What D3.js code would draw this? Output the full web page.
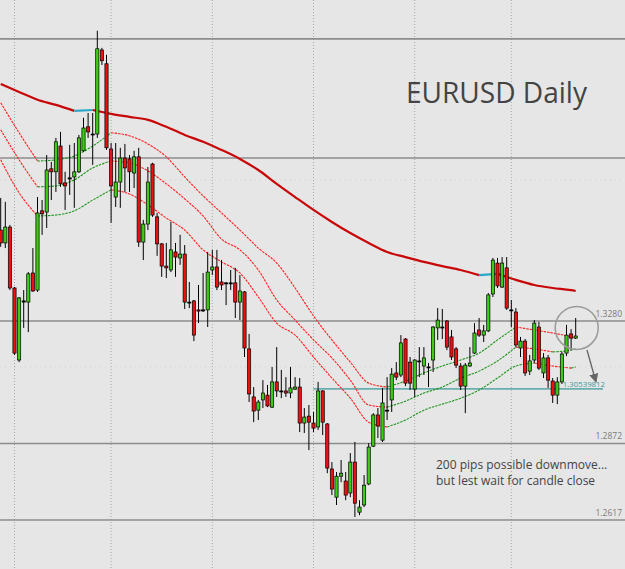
<!DOCTYPE html>
<html><head><meta charset="utf-8">
<script src="https://cdn.jsdelivr.net/npm/d3@7"></script>
<style>html,body{margin:0;padding:0;background:#e6e6e6;}svg{display:block;}</style>
</head><body>
<svg id="c" width="625" height="569"></svg>
<script>
// ---- data (EURUSD daily candles) ----
const open = [1.3583,1.3540,1.3593,1.3390,1.3150,1.3347,1.3343,1.3440,1.3383,1.3647,
1.3643,1.3787,1.3777,1.3863,1.3740,1.3757,1.3760,1.3777,1.3847,1.3927,
1.3903,1.3903,1.4183,1.4137,1.3853,1.3693,1.3743,1.3823,1.3820,1.3773,
1.3827,1.3543,1.3603,1.3803,1.3627,1.3537,1.3463,1.3450,1.3510,1.3490,
1.3503,1.3343,1.3347,1.3317,1.3317,1.3317,1.3450,1.3460,1.3410,1.3407,
1.3407,1.3407,1.3343,1.3377,1.3187,1.3027,1.2983,1.3017,1.3033,1.2993,
1.3077,1.3047,1.3047,1.3040,1.3053,1.3060,1.2940,1.2963,1.2940,1.2927,
1.3047,1.2937,1.2787,1.2693,1.2763,1.2747,1.2707,1.2810,1.2643,1.2667,
1.2737,1.2863,1.2967,1.2883,1.2983,1.3017,1.3107,1.3100,1.3220,1.3143,
1.3053,1.3147,1.3130,1.3127,1.3150,1.3257,1.3260,1.3280,1.3227,1.3187,
1.3130,1.3063,1.3130,1.3173,1.3250,1.3233,1.3247,1.3370,1.3473,1.3393,
1.3457,1.3317,1.3310,1.3190,1.3213,1.3113,1.3150,1.3260,1.3107,1.3157,
1.3080,1.3033,1.3077,1.3173,1.3237,1.3223];
const high = [1.3690,1.3677,1.3600,1.3393,1.3360,1.3383,1.3443,1.3523,1.3693,1.3683,
1.3833,1.3810,1.3890,1.3910,1.3777,1.3867,1.3873,1.3900,1.3957,1.3973,
1.3973,1.4247,1.4190,1.4167,1.3873,1.3873,1.3857,1.3870,1.3833,1.3847,
1.3857,1.3617,1.3793,1.3807,1.3640,1.3540,1.3540,1.3610,1.3540,1.3567,
1.3533,1.3410,1.3350,1.3400,1.3440,1.3510,1.3517,1.3517,1.3483,1.3410,
1.3450,1.3457,1.3433,1.3380,1.3237,1.3060,1.3017,1.3083,1.3067,1.3127,
1.3193,1.3117,1.3093,1.3127,1.3093,1.3090,1.2990,1.3000,1.2977,1.3077,
1.3050,1.2940,1.2810,1.2777,1.2817,1.2777,1.2840,1.2877,1.2683,1.2767,
1.2873,1.2973,1.2990,1.3057,1.3093,1.3123,1.3143,1.3233,1.3223,1.3160,
1.3153,1.3193,1.3193,1.3140,1.3263,1.3323,1.3320,1.3283,1.3250,1.3193,
1.3140,1.3140,1.3193,1.3273,1.3290,1.3267,1.3373,1.3490,1.3490,1.3493,
1.3493,1.3350,1.3323,1.3227,1.3220,1.3167,1.3283,1.3277,1.3173,1.3167,
1.3090,1.3093,1.3177,1.3267,1.3253,1.3290];
const low = [1.3527,1.3523,1.3383,1.3167,1.3143,1.3257,1.3243,1.3377,1.3377,1.3567,
1.3590,1.3683,1.3710,1.3727,1.3650,1.3700,1.3657,1.3773,1.3843,1.3890,
1.3800,1.3890,1.4133,1.3850,1.3607,1.3660,1.3657,1.3710,1.3710,1.3723,
1.3527,1.3483,1.3583,1.3627,1.3497,1.3427,1.3423,1.3443,1.3427,1.3467,
1.3320,1.3323,1.3213,1.3273,1.3310,1.3260,1.3433,1.3383,1.3383,1.3333,
1.3383,1.3290,1.3283,1.3160,1.3010,1.2943,1.2950,1.2990,1.2993,1.2990,
1.3027,1.3023,1.3027,1.3023,1.3050,1.2910,1.2907,1.2850,1.2910,1.2917,
1.2900,1.2773,1.2700,1.2667,1.2743,1.2683,1.2693,1.2627,1.2633,1.2660,
1.2733,1.2860,1.2890,1.2877,1.2950,1.2977,1.3083,1.3093,1.3063,1.3050,
1.3027,1.3093,1.3100,1.3060,1.3110,1.3217,1.3220,1.3183,1.3150,1.3123,
1.3050,1.2973,1.3127,1.3170,1.3227,1.3210,1.3243,1.3360,1.3390,1.3390,
1.3317,1.3260,1.3193,1.3160,1.3097,1.3100,1.3140,1.3117,1.3090,1.3057,
1.3007,1.3003,1.3070,1.3163,1.3183,1.3220];
const close = [1.3540,1.3593,1.3390,1.3173,1.3357,1.3343,1.3437,1.3380,1.3640,1.3637,
1.3783,1.3777,1.3877,1.3737,1.3730,1.3753,1.3777,1.3890,1.3923,1.3910,
1.3900,1.4187,1.4147,1.3857,1.3730,1.3743,1.3823,1.3790,1.3777,1.3827,
1.3543,1.3603,1.3743,1.3633,1.3537,1.3463,1.3457,1.3517,1.3493,1.3503,
1.3343,1.3340,1.3233,1.3313,1.3315,1.3443,1.3460,1.3393,1.3400,1.3405,
1.3405,1.3343,1.3380,1.3190,1.3037,1.2980,1.3010,1.3040,1.2997,1.3077,
1.3047,1.3045,1.3040,1.3057,1.3060,1.2940,1.2960,1.2943,1.2923,1.3047,
1.2943,1.2790,1.2720,1.2763,1.2773,1.2700,1.2810,1.2673,1.2660,1.2733,
1.2860,1.2967,1.2930,1.3007,1.2982,1.3103,1.3093,1.3207,1.3073,1.3073,
1.3150,1.3145,1.3157,1.3125,1.3260,1.3283,1.3258,1.3193,1.3160,1.3133,
1.3063,1.3133,1.3140,1.3240,1.3233,1.3247,1.3367,1.3483,1.3397,1.3473,
1.3323,1.3315,1.3200,1.3213,1.3107,1.3147,1.3273,1.3123,1.3157,1.3083,
1.3033,1.3077,1.3170,1.3233,1.3223,1.3230];

// moving averages, read at every 4th candle
const maIndex = [1,5,9,13,17,21,25,29,33,37,41,45,49,53,57,61,65,69,73,77,81,85,89,93,97,101,105,109,113,117,121,125,126];
const maSlow = [1.4070,1.4043,1.4017,1.4000,1.3980,1.3983,1.3970,1.3960,1.3950,1.3927,1.3900,1.3877,1.3850,1.3820,1.3783,1.3737,1.3693,1.3650,1.3610,1.3573,1.3540,1.3510,1.3493,1.3477,1.3463,1.3450,1.3433,1.3437,1.3417,1.3400,1.3390,1.3383,1.3380];
const maA = [1.4007,1.3907,1.3813,1.3817,1.3830,1.3863,1.3907,1.3897,1.3870,1.3827,1.3760,1.3697,1.3640,1.3583,1.3523,1.3473,1.3390,1.3297,1.3217,1.3143,1.3073,1.3060,1.3080,1.3107,1.3130,1.3150,1.3173,1.3217,1.3260,1.3250,1.3240,1.3227,1.3223];
const maB = [1.3917,1.3817,1.3727,1.3730,1.3750,1.3790,1.3813,1.3807,1.3780,1.3737,1.3687,1.3630,1.3553,1.3517,1.3450,1.3350,1.3283,1.3217,1.3157,1.3083,1.3000,1.2993,1.3013,1.3040,1.3060,1.3090,1.3113,1.3147,1.3193,1.3187,1.3177,1.3183,1.3187];
const maC = [1.3817,1.3707,1.3630,1.3633,1.3647,1.3683,1.3717,1.3703,1.3667,1.3623,1.3583,1.3517,1.3477,1.3440,1.3360,1.3273,1.3233,1.3160,1.3090,1.3023,1.2943,1.2927,1.2950,1.2983,1.3003,1.3023,1.3050,1.3090,1.3130,1.3140,1.3130,1.3123,1.3127];

// horizontal levels
const levels = [1.4220, 1.3823, 1.3280, 1.2872, 1.2617];
const levelLabels = ["", "", "1.3280", "1.2872", "1.2617"];
const gridDots = [1.3750, 1.3127];
const gridCandles = [4, 25, 47, 69, 91, 112];
const supportLevel = 1.30539812;
const supportLabel = "1.30539812";
const title = "EURUSD Daily";
const note = ["200 pips possible downmove...", "but lest wait for candle close"];

// ---- drawing ----
const W = 625, H = 569;
const svg = d3.select("#c");
svg.append("rect").attr("width", W).attr("height", H).attr("fill", "#e6e6e6");

const x = d3.scaleLinear().domain([1, 126]).range([0.7, 575.7]);
const y = d3.scaleLinear().domain([1.2617, 1.3280]).range([520, 321]);

// dotted grid
svg.append("g").selectAll("line").data(gridCandles).join("line")
  .attr("x1", d => x(d)).attr("x2", d => x(d)).attr("y1", 0).attr("y2", H)
  .attr("stroke", "#a8a8a8").attr("stroke-width", 1).attr("stroke-dasharray", "1,2");
svg.append("g").selectAll("line").data(gridDots).join("line")
  .attr("x1", 0).attr("x2", W).attr("y1", d => y(d)).attr("y2", d => y(d))
  .attr("stroke", "#d2d2d2").attr("stroke-width", 1).attr("stroke-dasharray", "1,4");

// horizontal levels
svg.append("g").selectAll("line").data(levels).join("line")
  .attr("x1", 0).attr("x2", W).attr("y1", d => y(d)).attr("y2", d => y(d))
  .attr("stroke", "#8c8c8c").attr("stroke-width", 1.6);
svg.append("g").selectAll("text").data(levels).join("text")
  .attr("x", 622).attr("y", d => y(d) - 4)
  .attr("text-anchor", "end").attr("font-family", "Open Sans, sans-serif")
  .attr("font-size", 8.5).attr("fill", "#7a7a7a")
  .text((d, i) => levelLabels[i]);

// support line
svg.append("line").attr("x1", x(69)).attr("x2", 603)
  .attr("y1", y(supportLevel)).attr("y2", y(supportLevel))
  .attr("stroke", "#6aaeae").attr("stroke-width", 1.6);

// moving averages coloured by slope
function drawMA(vals, upC, downC, w, dash) {
  const g = svg.append("g").attr("fill", "none");
  const line = d3.line().x(d => x(d[0])).y(d => y(d[1])).curve(d3.curveMonotoneX);
  let runs = [], cur = null;
  for (let k = 0; k < vals.length - 1; k++) {
    const up = vals[k + 1] > vals[k];
    if (!cur || cur.up !== up) { cur = { up, s: k, e: k + 1 }; runs.push(cur); }
    else cur.e = k + 1;
  }
  runs.forEach(r => {
    const pts = d3.range(r.s, r.e + 1).map(k => [maIndex[k], vals[k]]);
    g.append("path").attr("d", line(pts))
      .attr("stroke", r.up ? upC : downC).attr("stroke-width", w)
      .attr("stroke-dasharray", dash || null);
  });
}
drawMA(maC, "#1f961f", "#ff2020", 1.1, "2.5,1");
drawMA(maB, "#1f961f", "#ff2020", 1.1, "2.5,1");
drawMA(maA, "#1f961f", "#ff2020", 1.1, "2.5,1");
drawMA(maSlow, "#2aa8c8", "#c80808", 2.2, null);

// candles
const idx = d3.range(126);
const cg = svg.append("g");
cg.selectAll("line").data(idx).join("line")
  .attr("x1", i => x(i + 1)).attr("x2", i => x(i + 1))
  .attr("y1", i => y(high[i])).attr("y2", i => y(low[i]))
  .attr("stroke", "#000").attr("stroke-width", 1);
cg.selectAll("rect").data(idx).join("rect")
  .attr("x", i => x(i + 1) - 1.6).attr("width", 3.2)
  .attr("y", i => y(Math.max(open[i], close[i])))
  .attr("height", i => Math.max(1, Math.abs(y(open[i]) - y(close[i]))))
  .attr("fill", i => Math.abs(open[i] - close[i]) < 0.0004 ? "#000" : (close[i] > open[i] ? "#3ccc14" : "#ee1010"))
  .attr("stroke", "#000").attr("stroke-width", 0.7);

// support label
svg.append("text").attr("x", 605).attr("y", y(supportLevel) - 2)
  .attr("text-anchor", "end").attr("font-family", "Open Sans, sans-serif")
  .attr("font-size", 7.8).attr("fill", "#3a9a9a").text(supportLabel);

// title
svg.append("text").attr("x", 406).attr("y", 103)
  .attr("font-family", "Open Sans, sans-serif").attr("font-size", 30)
  .attr("fill", "#444").attr("textLength", 181).attr("lengthAdjust", "spacingAndGlyphs")
  .text(title);

// note
svg.append("g").selectAll("text").data(note).join("text")
  .attr("x", 436).attr("y", (d, i) => 469 + i * 16)
  .attr("font-family", "Open Sans, sans-serif").attr("font-size", 12)
  .attr("fill", "#444").text(d => d);

// circle and arrow
svg.append("circle").attr("cx", x(126) + 1).attr("cy", y(1.3257)).attr("r", 21.5)
  .attr("fill", "none").attr("stroke", "#9a9a9a").attr("stroke-width", 1.5);
svg.append("defs").append("marker").attr("id", "ah").attr("viewBox", "0 0 10 10")
  .attr("refX", 9).attr("refY", 5).attr("markerWidth", 7).attr("markerHeight", 7)
  .attr("orient", "auto").append("path").attr("d", "M0,0 L10,5 L0,10 z").attr("fill", "#666");
svg.append("line").attr("x1", 587).attr("y1", 350).attr("x2", 596).attr("y2", 382)
  .attr("stroke", "#666").attr("stroke-width", 1.3).attr("marker-end", "url(#ah)");
</script>
</body></html>
